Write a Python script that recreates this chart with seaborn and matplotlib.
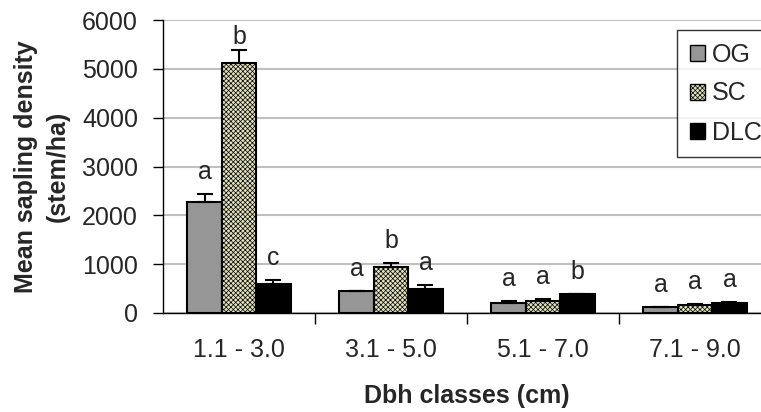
import numpy as np
import pandas as pd
import matplotlib
matplotlib.use("Agg")
import matplotlib.pyplot as plt
from matplotlib.patches import Patch
import seaborn as sns

categories = ["1.1 - 3.0", "3.1 - 5.0", "5.1 - 7.0", "7.1 - 9.0"]
sites = ["OG", "SC", "DLC"]
og_mean = [2280, 450, 200, 125]
sc_mean = [5120, 945, 250, 160]
dlc_mean = [600, 495, 380, 195]
og_se = [160, 10, 45, 8]
sc_se = [270, 80, 35, 22]
dlc_se = [85, 75, 8, 22]
og_letters = ["a", "a", "a", "a"]
sc_letters = ["b", "b", "a", "a"]
dlc_letters = ["c", "a", "b", "a"]

sns.set_theme(style="white")
plt.rcParams["font.family"] = ["Liberation Sans", "DejaVu Sans"]
plt.rcParams["hatch.linewidth"] = 0.5
plt.rcParams["hatch.color"] = "#7a7a68"

rows = []
for site, means, ses, letters in [("OG", og_mean, og_se, og_letters),
                                  ("SC", sc_mean, sc_se, sc_letters),
                                  ("DLC", dlc_mean, dlc_se, dlc_letters)]:
    for c, m, s, l in zip(categories, means, ses, letters):
        rows.append(dict(dbh=c, site=site, mean=m, se=s, letter=l))
df = pd.DataFrame(rows)

colors = {"OG": "#969696", "SC": "#e2e2bc", "DLC": "#000000"}
hatches = {"OG": "", "SC": "xxxxxxx", "DLC": ""}

fig = plt.figure(figsize=(7.61, 4.12), dpi=100)
ax_h_px = 293
ax = fig.add_axes([163 / 761, (412 - 313) / 412, 608 / 761, ax_h_px / 412])
ymax = 6000
px = ymax / ax_h_px  # data units per pixel

sns.barplot(data=df, x="dbh", y="mean", hue="site", order=categories,
            hue_order=sites, palette=colors, width=0.68, gap=0,
            edgecolor="black", linewidth=1.5, errorbar=None, ax=ax,
            legend=False, saturation=1)

for i, site in enumerate(sites):
    sub = df[df.site == site].set_index("dbh").loc[categories]
    for j, cat in enumerate(categories):
        p = ax.patches[i * len(categories) + j]
        if hatches[site]:
            p.set_hatch(hatches[site])
        xc = p.get_x() + p.get_width() / 2
        m = sub.loc[cat, "mean"]
        s = sub.loc[cat, "se"]
        ax.errorbar(xc, m, yerr=[[0], [s]], fmt="none", ecolor="black",
                    elinewidth=1.5, capsize=6, capthick=1.5, zorder=3)
        ytxt = min(m + s + 15 * px, ymax - 24 * px)
        ax.text(xc, ytxt, sub.loc[cat, "letter"], ha="center", va="baseline",
                fontsize=18, clip_on=False)

ax.set_ylim(0, ymax)
ax.set_xlim(-0.5, 3.5)
ax.set_yticks(np.arange(0, ymax + 1, 1000))
ax.yaxis.grid(True, color="#c0c0c0", linewidth=1.5)
ax.set_axisbelow(True)
ax.set_xticks(range(len(categories)))
ax.set_xticklabels(categories)
ax.set_xticks(np.arange(0.5, 3.5, 1.0), minor=True)
ax.tick_params(axis="x", which="major", length=0, pad=18, labelsize=18)
ax.tick_params(axis="x", which="minor", length=8, width=1, color="black", direction="out", bottom=True)
ax.tick_params(axis="y", length=7, width=1, color="black", direction="out", left=True, pad=11, labelsize=18)
for side in ["top", "right"]:
    ax.spines[side].set_visible(False)
for side in ["left", "bottom"]:
    ax.spines[side].set_color("black")
    ax.spines[side].set_linewidth(1)

ax.set_xlabel("Dbh classes (cm)", fontsize=18, fontweight="bold", labelpad=16)
ax.set_ylabel("Mean sapling density\n(stem/ha)", fontsize=18, fontweight="bold", labelpad=9,
              linespacing=1.4)

handles = [Patch(facecolor=colors[s], edgecolor="black", hatch=hatches[s], label=s) for s in sites]
leg = ax.legend(handles=handles, loc="upper left", bbox_to_anchor=((677 - 163) / 608, 1 - 10 / 293),
                fontsize=18, frameon=True, fancybox=False, shadow=False,
                handlelength=0.6, handleheight=0.6, handletextpad=0.3,
                borderpad=0.5, labelspacing=0.6, borderaxespad=0)
leg.get_frame().set_edgecolor("black")
leg.get_frame().set_linewidth(1)

fig.savefig("out.png", dpi=100)
